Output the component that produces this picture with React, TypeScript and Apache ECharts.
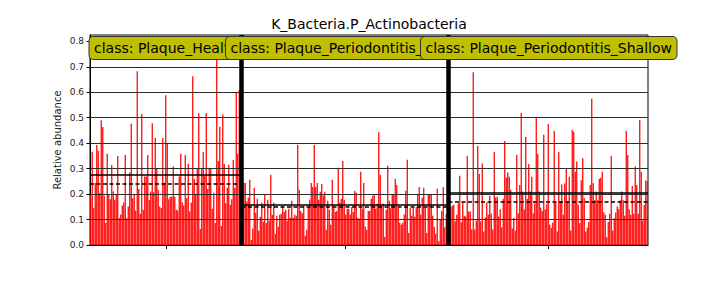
import React, { useEffect, useRef } from "react";
import * as echarts from "echarts";

// ---- data ----
const TITLE = "K_Bacteria.P_Actinobacteria";
const Y_LABEL = "Relative abundance";
const CLASS_NAMES = ["Plaque_Healthy", "Plaque_Periodontitis_Deep", "Plaque_Periodontitis_Shallow"];
const CLASS_MEANS = [0.276, 0.158, 0.204];
const CLASS_MEDIANS = [0.24, 0.149, 0.17];
const Y_TICKS = [0, 0.1, 0.2, 0.3, 0.4, 0.5, 0.6, 0.7, 0.8];
const Y_MAX = 0.825;

const HEALTHY = [
  0.200, 0.366, 0.146, 0.245, 0.393, 0.370, 0.204, 0.490, 0.464, 0.193,
  0.086, 0.358, 0.200, 0.180, 0.314, 0.210, 0.177, 0.197, 0.350, 0.106,
  0.120, 0.155, 0.167, 0.354, 0.105, 0.151, 0.285, 0.476, 0.184, 0.197,
  0.136, 0.683, 0.220, 0.123, 0.515, 0.138, 0.269, 0.269, 0.354, 0.177,
  0.210, 0.478, 0.207, 0.420, 0.300, 0.217, 0.151, 0.145, 0.420, 0.245,
  0.588, 0.400, 0.180, 0.190, 0.190, 0.308, 0.190, 0.138, 0.136, 0.269,
  0.358, 0.167, 0.155, 0.354, 0.184, 0.319, 0.132, 0.167, 0.663, 0.259,
  0.197, 0.300, 0.518, 0.063, 0.300, 0.365, 0.272, 0.518, 0.220, 0.300,
  0.300, 0.142, 0.205, 0.086, 0.760, 0.330, 0.465, 0.075, 0.513, 0.318,
  0.165, 0.225, 0.315, 0.158, 0.180, 0.334, 0.225, 0.600, 0.358, 0.609,
  0.600,
];

const DEEP = [
  0.244, 0.244, 0.244, 0.171, 0.186, 0.256, 0.020, 0.065, 0.225, 0.127,
  0.182, 0.056, 0.111, 0.166, 0.091, 0.200, 0.086, 0.178, 0.095, 0.276,
  0.119, 0.166, 0.044, 0.115, 0.072, 0.119, 0.123, 0.154, 0.130, 0.138,
  0.095, 0.142, 0.107, 0.174, 0.107, 0.119, 0.115, 0.393, 0.217, 0.134,
  0.125, 0.154, 0.036, 0.060, 0.154, 0.178, 0.244, 0.228, 0.393, 0.228,
  0.244, 0.178, 0.209, 0.240, 0.193, 0.209, 0.060, 0.174, 0.138, 0.080,
  0.256, 0.154, 0.130, 0.134, 0.303, 0.166, 0.182, 0.330, 0.178,
  0.120, 0.142, 0.142, 0.120, 0.149, 0.130, 0.213, 0.205, 0.107, 0.103,
  0.288, 0.142, 0.244, 0.072, 0.060, 0.134, 0.134, 0.182, 0.193, 0.197,
  0.142, 0.162, 0.443, 0.276, 0.154, 0.162, 0.031, 0.138, 0.311, 0.174,
  0.145, 0.197, 0.197, 0.260, 0.236, 0.145, 0.087, 0.080, 0.087, 0.120,
  0.213, 0.335, 0.047, 0.145, 0.115, 0.145, 0.111, 0.149, 0.197, 0.228,
  0.120, 0.186, 0.225, 0.145, 0.047, 0.197, 0.197, 0.197, 0.115, 0.072,
  0.044, 0.221, 0.015, 0.099, 0.134, 0.228, 0.070, 0.120, 0.120,
];

const SHALLOW = [
  0.150, 0.150, 0.154, 0.158, 0.093, 0.119, 0.163, 0.272, 0.089, 0.168,
  0.115, 0.112, 0.350, 0.132, 0.132, 0.061, 0.679, 0.061, 0.096, 0.389,
  0.279, 0.093, 0.320, 0.053, 0.108, 0.167, 0.119, 0.193, 0.124, 0.061,
  0.365, 0.187, 0.190, 0.112, 0.140, 0.070, 0.182, 0.409, 0.264, 0.285,
  0.268, 0.217, 0.065, 0.107, 0.057, 0.355, 0.124, 0.236, 0.519, 0.210,
  0.139, 0.425, 0.181, 0.318, 0.210, 0.268, 0.124, 0.163, 0.500, 0.358,
  0.210, 0.147, 0.134, 0.433, 0.139, 0.160, 0.475,
  0.080, 0.068, 0.088, 0.448, 0.171, 0.053, 0.365, 0.173, 0.238, 0.119,
  0.242, 0.300, 0.173, 0.268, 0.057, 0.452, 0.445, 0.288, 0.328, 0.158,
  0.085, 0.254, 0.341, 0.184, 0.053, 0.069, 0.090, 0.236, 0.575, 0.243,
  0.176, 0.210, 0.176, 0.260, 0.264, 0.288, 0.129, 0.119, 0.030, 0.090,
  0.123, 0.350, 0.057, 0.105, 0.128, 0.151, 0.141, 0.176, 0.210, 0.176,
  0.115, 0.448, 0.354, 0.139, 0.119, 0.232, 0.123, 0.308, 0.236, 0.123,
  0.491, 0.288, 0.096, 0.158, 0.253, 0.250,
];

const CLASS_VALUES = [HEALTHY, DEEP, SHALLOW];

// ---- layout ----
const W = 720;
const H = 288;
const GRID_LEFT = 90;
const GRID_RIGHT = 72;
const GRID_TOP = 35;
const GRID_BOTTOM = 43;
const LABEL_LEFTS = [89.5, 226, 421];
const FONT = '"DejaVu Sans", sans-serif';

export default function App() {
  const ref = useRef<HTMLDivElement>(null);

  useEffect(() => {
    if (!ref.current) return;
    const chart = echarts.init(ref.current, undefined, { renderer: "svg" });

    const all: number[] = [];
    const starts: number[] = [];
    CLASS_VALUES.forEach((arr) => {
      starts.push(all.length);
      all.push(...arr);
    });
    const total = all.length;
    const ends = CLASS_VALUES.map((arr, i) => starts[i] + arr.length);
    const mids = starts.map((s, i) => (s + ends[i]) / 2);
    const plotW = W - GRID_LEFT - GRID_RIGHT;

    const barData = all.map((v, i) => [i + 0.5, v]);

    const gridLines = Y_TICKS.filter((t) => t > 0).map((t) => ({
      yAxis: t,
      lineStyle: { color: "#2b2b2b", width: 1, type: "solid" },
    }));
    const separators = starts.slice(1).map((s) => ({
      xAxis: s,
      lineStyle: { color: "#000", width: 4.5, type: "solid" },
    }));
    const meanLines = CLASS_MEANS.map((m, i) => [
      { coord: [starts[i], m], lineStyle: { color: "#000", width: 1.5, type: "solid" } },
      { coord: [ends[i], m] },
    ]);
    const medianLines = CLASS_MEDIANS.map((m, i) => [
      { coord: [starts[i], m], lineStyle: { color: "#000", width: 1.5, type: [4, 2.5] } },
      { coord: [ends[i], m] },
    ]);

    const labelBoxes = CLASS_NAMES.map((name, i) => ({
      type: "text",
      z: 100 + i,
      x: LABEL_LEFTS[i],
      y: 48,
      style: {
        text: "class: " + name,
        font: `14px ${FONT}`,
        fill: "#000",
        align: "left",
        verticalAlign: "middle",
        lineHeight: 14,
        backgroundColor: "#bfbf00",
        borderColor: "#333",
        borderWidth: 1,
        borderRadius: 4,
        padding: [4, 4.5, 4, 4.5],
      },
    }));

    chart.setOption({
      animation: false,
      grid: {
        left: GRID_LEFT,
        right: GRID_RIGHT,
        top: GRID_TOP,
        bottom: GRID_BOTTOM,
        show: true,
        borderColor: "#000",
        borderWidth: 1,
        backgroundColor: "transparent",
      },
      xAxis: {
        type: "value",
        min: 0,
        max: total,
        axisLine: { show: true, onZero: false, lineStyle: { color: "#000", width: 1 } },
        axisTick: {
          show: true,
          length: 4,
          inside: false,
          customValues: mids,
          lineStyle: { color: "#000" },
        },
        axisLabel: { show: false },
        splitLine: { show: false },
      },
      yAxis: {
        type: "value",
        min: 0,
        max: Y_MAX,
        interval: 0.1,
        axisLine: { show: true, lineStyle: { color: "#000", width: 1 } },
        axisTick: {
          show: true,
          length: 3.5,
          inside: false,
          customValues: Y_TICKS,
          lineStyle: { color: "#000" },
        },
        axisLabel: {
          show: true,
          customValues: Y_TICKS,
          margin: 6,
          fontSize: 9,
          fontFamily: FONT,
          color: "#222",
          formatter: (v: number) => v.toFixed(1),
        },
        splitLine: { show: false },
      },
      series: [
        {
          type: "bar",
          data: barData,
          barWidth: 1.25,
          itemStyle: { color: "#ff0000" },
          silent: true,
          markLine: {
            silent: true,
            symbol: ["none", "none"],
            label: { show: false },
            z: 5,
            data: [...gridLines, ...meanLines, ...medianLines, ...separators],
          },
        },
      ],
      graphic: [
        {
          type: "text",
          x: GRID_LEFT + plotW / 2,
          y: 24,
          style: {
            text: TITLE,
            font: `14px ${FONT}`,
            fill: "#000",
            align: "center",
            verticalAlign: "middle",
          },
        },
        {
          type: "text",
          x: 57,
          y: 140,
          rotation: Math.PI / 2,
          style: {
            text: Y_LABEL,
            font: `10px ${FONT}`,
            fill: "#222",
            align: "center",
            verticalAlign: "middle",
          },
        },
        ...labelBoxes,
      ],
    });

    return () => chart.dispose();
  }, []);

  return (
    <div
      ref={ref}
      style={{ position: "absolute", left: 0, top: 0, width: W, height: H, background: "#fff" }}
    />
  );
}
